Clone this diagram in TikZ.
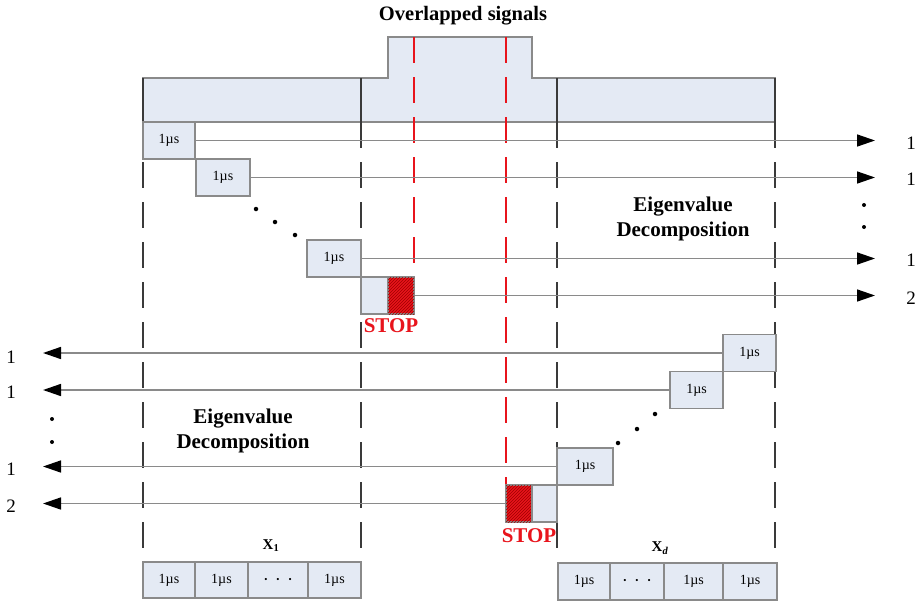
\documentclass[tikz,border=0pt]{standalone}
\usepackage{fontspec}
\setmainfont{Liberation Serif}
\usetikzlibrary{arrows.meta,patterns}
\definecolor{boxfill}{HTML}{E4EAF4}
\definecolor{boxline}{HTML}{8A8A8A}
\definecolor{divline}{HTML}{3A3A3A}
\definecolor{sigred}{HTML}{E8141C}
\definecolor{darkred}{HTML}{A00000}
\tikzset{
  cell/.style={draw=boxline, fill=boxfill, line width=1.2pt, inner sep=0pt, minimum height=37pt, font=\fontsize{14}{15}\selectfont},
  divider/.style={draw=divline, line width=1.8pt, dash pattern=on 26pt off 14pt},
  reddash/.style={draw=sigred, line width=1.5pt, dash pattern=on 26pt off 14pt},
  arr/.style={draw=boxline, line width=1.5pt, -{Triangle[length=18pt,width=12pt,color=black]}},
  lab/.style={font=\fontsize{19}{20}\selectfont, inner sep=0pt},
  title/.style={font=\bfseries\fontsize{21}{25}\selectfont, align=center, inner sep=0pt},
  stoptxt/.style={font=\bfseries\fontsize{21}{22}\selectfont, text=sigred, inner sep=0pt},
  hatch/.style={fill=sigred, postaction={pattern=north east lines, pattern color=darkred}, draw=boxline, line width=1.2pt},
  dot/.style={circle, fill=black, inner sep=0pt, minimum size=4.5pt}
}
\newcommand{\tridots}{{\fontsize{9}{9}\selectfont •\hspace{9pt}•\hspace{9pt}•}}
\begin{document}
\begin{tikzpicture}[x=1pt,y=-1pt]
\useasboundingbox (0,0) rectangle (918,602);
% banner
\draw[draw=boxline, fill=boxfill, line width=1.2pt] (143,78) -- (388,78) -- (388,37) -- (532,37) -- (532,78) -- (775,78) -- (775,122) -- (143,122) -- cycle;
\node[font=\bfseries\fontsize{20.5}{22}\selectfont, inner sep=0pt] (ttl) at (463,16) {Overlapped signals};
% solid divider tops in banner
\foreach \xx in {143,361,557,775} {
  \draw[draw=divline, line width=1.8pt] (\xx,78) -- (\xx,122);
}
% dashed dividers
\foreach \xx in {143,361,557,775} {
  \draw[divider] (\xx,122) -- (\xx,550);
}
% red dashed lines
\draw[reddash] (414,37) -- (414,277);
\draw[reddash] (506,37) -- (506,485);

% upper boxes
\node[cell, minimum width=52pt] (b1) at (169,140.5) {1µs};
\node[cell, minimum width=54pt] (b2) at (223,177.5) {1µs};
\node[cell, minimum width=54pt] (b3) at (334,258.5) {1µs};
\node[cell, minimum width=27pt] (s1a) at (374.5,295.5) {};
\node[cell, hatch, minimum width=26pt] (s1b) at (401,295.5) {};
\node[stoptxt] (stop1) at (391,326) {STOP};
\node[dot] (d1) at (256,209) {};
\node[dot] (d2) at (275,222) {};
\node[dot] (d3) at (295,235) {};

% right arrows
\coordinate (r1) at (875,140.5);
\coordinate (r2) at (875,177.5);
\coordinate (r3) at (875,258.5);
\coordinate (r4) at (875,295.5);
\draw[arr] (b1.east) -- (r1);
\draw[arr] (b2.east) -- (r2);
\draw[arr] (b3.east) -- (r3);
\draw[arr] (s1b.east) -- (r4);
\node[lab] (rl1) at (911,143) {1};
\node[lab] (rl2) at (911,179) {1};
\node[lab] (rl3) at (911,260) {1};
\node[lab] (rl4) at (911,298) {2};
\node[dot, minimum size=4pt] (rd1) at (864,205) {};
\node[dot, minimum size=4pt] (rd2) at (864,227) {};
\node[title] (eig1) at (683,219) {Eigenvalue\\Decomposition};

% lower boxes
\node[cell, minimum width=53pt] (c1) at (749.5,353) {1µs};
\node[cell, minimum width=53pt] (c2) at (696.5,390) {1µs};
\node[cell, minimum width=56pt] (c3) at (585,466.5) {1µs};
\node[cell, hatch, minimum width=26pt] (s2a) at (519,503.5) {};
\node[cell, minimum width=25pt] (s2b) at (544.5,503.5) {};
\node[stoptxt] (stop2) at (529,536) {STOP};
\node[dot] (e1) at (618,443) {};
\node[dot] (e2) at (637,429) {};
\node[dot] (e3) at (655,414) {};

% left arrows
\coordinate (q1) at (43,353);
\coordinate (q2) at (43,390);
\coordinate (q3) at (43,466.5);
\coordinate (q4) at (43,503.5);
\draw[arr] (c1.west) -- (q1);
\draw[arr] (c2.west) -- (q2);
\draw[arr] (c3.west) -- (q3);
\draw[arr] (s2a.west) -- (q4);
\node[lab] (ll1) at (11,357) {1};
\node[lab] (ll2) at (11,392) {1};
\node[lab] (ll3) at (11,469) {1};
\node[lab] (ll4) at (11,506) {2};
\node[dot, minimum size=4pt] (ld1) at (52,419) {};
\node[dot, minimum size=4pt] (ld2) at (52,442) {};
\node[title] (eig2) at (243,431) {Eigenvalue\\Decomposition};

% bottom frames
\node[font=\bfseries\fontsize{15}{16}\selectfont, inner sep=0pt] (x1) at (271,546) {X\textsubscript{1}};
\node[font=\bfseries\fontsize{15}{16}\selectfont, inner sep=0pt] (xd) at (660,548) {X\textsubscript{\itshape d}};
\node[cell, minimum width=52pt, minimum height=36pt] (f1) at (169,580) {1µs};
\node[cell, minimum width=53pt, minimum height=36pt] (f2) at (221.5,580) {1µs};
\node[cell, minimum width=60pt, minimum height=36pt] (f3) at (278,580) {\tridots};
\node[cell, minimum width=53pt, minimum height=36pt] (f4) at (334.5,580) {1µs};
\node[cell, minimum width=52pt, minimum height=37pt] (g1) at (584,581.5) {1µs};
\node[cell, minimum width=54pt, minimum height=37pt] (g2) at (637,581.5) {\tridots};
\node[cell, minimum width=59pt, minimum height=37pt] (g3) at (693.5,581.5) {1µs};
\node[cell, minimum width=54pt, minimum height=37pt] (g4) at (750,581.5) {1µs};
\end{tikzpicture}
\end{document}
